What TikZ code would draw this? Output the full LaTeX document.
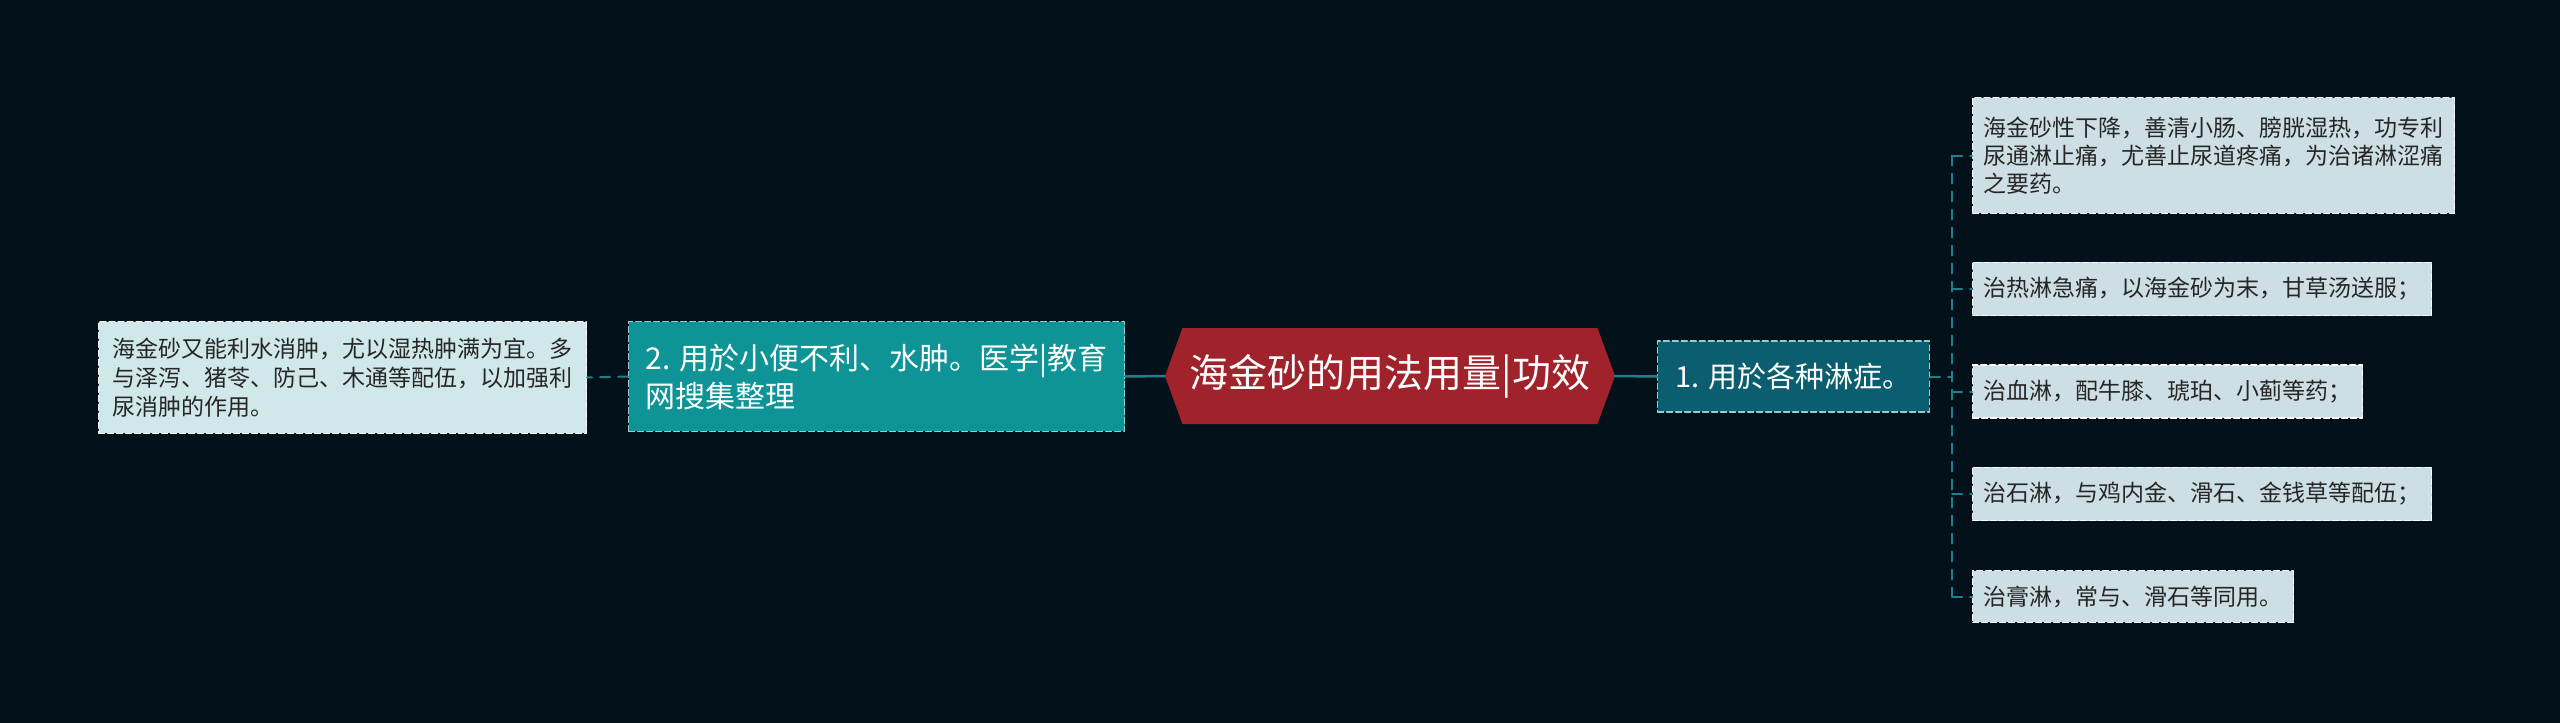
\documentclass[tikz,border=0pt]{standalone}
\usepackage{fontspec}
\setmainfont{Noto Sans CJK SC}
\usepackage{tikz}
\usetikzlibrary{arrows}
\usetikzlibrary{positioning}
\usetikzlibrary{shapes.symbols}

\definecolor{bgdark}{RGB}{3,17,27}
\definecolor{rootred}{RGB}{160,34,42}
\definecolor{tealtwo}{RGB}{14,147,150}
\definecolor{tealone}{RGB}{11,94,112}
\definecolor{leafgray}{RGB}{205,223,228}
\definecolor{leafleft}{RGB}{208,232,234}
\definecolor{linkteal}{RGB}{30,128,140}

\tikzset{
rootbox/.style={shape=signal,signal to=west and east,signal pointer angle=140,fill=rootred,text=white,minimum width=450pt,minimum height=96pt,inner sep=0pt,font=\fontsize{39}{44}\selectfont},
branchbox/.style={draw=white!55!tealtwo,dashed,dash pattern=on 6pt off 3pt,line width=1.2pt,text=white,anchor=west,align=left,inner ysep=22pt},
leafbox/.style={draw=white!90!leafgray,dashed,dash pattern=on 6pt off 3pt,line width=1.2pt,text=black!85,anchor=west,align=left,inner xsep=11pt,inner ysep=15pt,font=\fontsize{23}{28}\selectfont},
link/.style={draw=linkteal,line width=2.5pt},
leaflink/.style={draw=linkteal,line width=2pt,dashed,dash pattern=on 10pt off 8pt}
}

\begin{document}
\begin{tikzpicture}[line cap=round,line join=round,x=1pt,y=-1pt]
\fill[bgdark] (0,0) rectangle (2560,723);
\useasboundingbox (0,0) rectangle (2560,723);
\node[rootbox] (root) at (1390,376) {海金砂的用法用量|功效};
\node[branchbox,fill=tealtwo,inner xsep=17pt,font=\fontsize{30}{38}\selectfont] (b2) at (628,376.5) {2. 用於小便不利、水肿。医学|教育\\网搜集整理};
\node[branchbox,fill=tealone,inner xsep=18pt,font=\fontsize{29}{34}\selectfont] (b1) at (1657,376.5) {1. 用於各种淋症。};
\node[leafbox,fill=leafleft,inner xsep=14pt,inner ysep=16pt,font=\fontsize{23}{29}\selectfont] (ll) at (98,377.5) {海金砂又能利水消肿，尤以湿热肿满为宜。多\\与泽泻、猪苓、防己、木通等配伍，以加强利\\尿消肿的作用。};
\node[leafbox,fill=leafgray,inner ysep=19pt] (l1) at (1972,155.5) {海金砂性下降，善清小肠、膀胱湿热，功专利\\尿通淋止痛，尤善止尿道疼痛，为治诸淋涩痛\\之要药。};
\node[leafbox,fill=leafgray] (l2) at (1972,289) {治热淋急痛，以海金砂为末，甘草汤送服；};
\node[leafbox,fill=leafgray] (l3) at (1972,391.5) {治血淋，配牛膝、琥珀、小蓟等药；};
\node[leafbox,fill=leafgray] (l4) at (1972,494) {治石淋，与鸡内金、滑石、金钱草等配伍；};
\node[leafbox,fill=leafgray] (l5) at (1972,596.5) {治膏淋，常与、滑石等同用。};
\coordinate (bus) at (1952,376.5);
\draw[link] (root.west) -- (b2.east);
\draw[link] (root.east) -- (b1.east -| b1.west);
\draw[leaflink] (b2.west) -- (ll.east);
\draw[leaflink] (b1.east) -- (bus);
\draw[leaflink] (bus |- l1.west) -- (bus |- l5.west);
\foreach \n in {l1,l2,l3,l4,l5}
\draw[leaflink] (bus |- \n.west) -- (\n.west);
\end{tikzpicture}
\end{document}
